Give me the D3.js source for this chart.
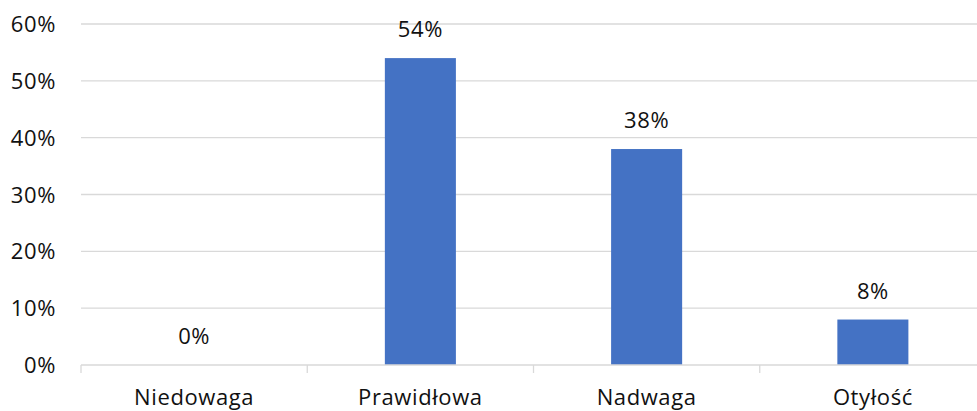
<!DOCTYPE html>
<html><head><meta charset="utf-8">
<script src="https://cdn.jsdelivr.net/npm/d3@7"></script>
<style>body{margin:0;background:#fff}svg{display:block}text{font-family:"Open Sans",Lato,sans-serif;fill:#111;letter-spacing:0.6px}</style>
</head><body>
<svg id="c" width="977" height="411"></svg>
<script>
const categories = ["Niedowaga", "Prawidłowa", "Nadwaga", "Otyłość"];
const values = [0, 54, 38, 8];
const yTicks = [0, 10, 20, 30, 40, 50, 60];

const svg = d3.select("#c");
const x = d3.scaleBand().domain(categories).range([81, 986]).paddingInner(0.686).paddingOuter(0.343);
const y = d3.scaleLinear().domain([0, 60]).range([365, 24]);
const step = x.step();

// gridlines
svg.append("g").selectAll("line").data(yTicks.filter(d => d > 0)).join("line")
  .attr("x1", 81).attr("x2", 986).attr("y1", d => y(d)).attr("y2", d => y(d))
  .attr("stroke", "#d9d9d9").attr("stroke-width", 1.3);

// y labels
svg.append("g").selectAll("text").data(yTicks).join("text")
  .attr("x", 56).attr("y", d => y(d) + 8).attr("text-anchor", "end")
  .attr("font-size", 22).text(d => d + "%");

// bars
svg.append("g").selectAll("rect").data(values).join("rect")
  .attr("x", (d, i) => x(categories[i])).attr("width", x.bandwidth())
  .attr("y", d => y(d)).attr("height", d => y(0) - y(d)).attr("fill", "#4472c4");

// x axis line + ticks
svg.append("line").attr("x1", 81).attr("x2", 986).attr("y1", y(0)).attr("y2", y(0))
  .attr("stroke", "#d9d9d9").attr("stroke-width", 1.3);
svg.append("g").selectAll("line").data(categories.concat(["_end"])).join("line")
  .attr("x1", (d, i) => 81 + i * step).attr("x2", (d, i) => 81 + i * step)
  .attr("y1", y(0)).attr("y2", y(0) + 8).attr("stroke", "#d9d9d9").attr("stroke-width", 1.3);

// category labels
svg.append("g").selectAll("text").data(categories).join("text")
  .attr("x", d => x(d) + x.bandwidth() / 2).attr("y", 405).attr("text-anchor", "middle")
  .attr("font-size", 22).text(d => d);

// value labels
svg.append("g").selectAll("text").data(values).join("text")
  .attr("x", (d, i) => x(categories[i]) + x.bandwidth() / 2).attr("y", d => y(d) - 21)
  .attr("text-anchor", "middle").attr("font-size", 22).text(d => d + "%");
</script>
</body></html>
